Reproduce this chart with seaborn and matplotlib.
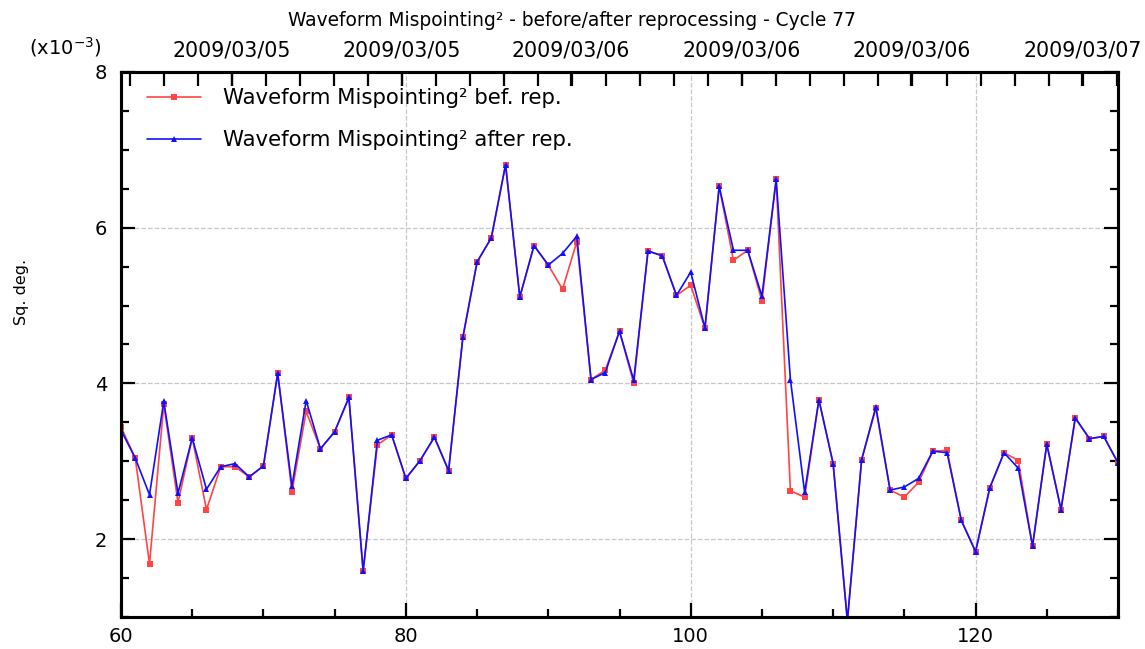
import numpy as np
import matplotlib
matplotlib.use("Agg")
import matplotlib.pyplot as plt
from matplotlib.ticker import MultipleLocator, FixedLocator
import pandas as pd
import seaborn as sns

# sample index along the pass
x = list(range(60, 131))

# mispointing^2 before reprocessing (x1e-3 sq. deg.)
before = [3.44, 3.04, 1.68, 3.73, 2.47, 3.30, 2.38, 2.93, 2.93, 2.80,
          2.94, 4.13, 2.61, 3.64, 3.16, 3.38, 3.82, 1.59, 3.21, 3.34,
          2.78, 3.01, 3.31, 2.88, 4.59, 5.56, 5.87, 6.81, 5.11, 5.77,
          5.52, 5.21, 5.82, 4.05, 4.17, 4.67, 4.00, 5.70, 5.64, 5.13,
          5.26, 4.71, 6.53, 5.58, 5.71, 5.06, 6.62, 2.62, 2.54, 3.79,
          2.97, 0.95, 3.02, 3.68, 2.63, 2.54, 2.73, 3.13, 3.14, 2.24,
          1.84, 2.66, 3.11, 3.01, 1.91, 3.22, 2.38, 3.55, 3.29, 3.32,
          2.98]

# mispointing^2 after reprocessing
after = [3.40, 3.04, 2.57, 3.77, 2.59, 3.30, 2.64, 2.93, 2.97, 2.80,
         2.94, 4.13, 2.68, 3.78, 3.16, 3.38, 3.82, 1.59, 3.27, 3.34,
         2.78, 3.01, 3.31, 2.88, 4.59, 5.56, 5.87, 6.81, 5.11, 5.77,
         5.52, 5.67, 5.89, 4.05, 4.14, 4.67, 4.04, 5.70, 5.64, 5.13,
         5.43, 4.71, 6.53, 5.71, 5.71, 5.12, 6.62, 4.05, 2.60, 3.79,
         2.97, 0.95, 3.02, 3.70, 2.63, 2.67, 2.78, 3.13, 3.11, 2.24,
         1.84, 2.66, 3.11, 2.91, 1.91, 3.22, 2.38, 3.56, 3.29, 3.32,
         2.98]

# top axis date labels
date_pos = [67.8, 79.7, 91.6, 103.6, 115.5, 127.5]
date_labels = ['2009/03/05', '2009/03/05', '2009/03/06',
               '2009/03/06', '2009/03/06', '2009/03/07']

df = pd.DataFrame({'x': x, 'before': before, 'after': after})

sns.set_style("white")
plt.rcParams['font.family'] = ['DejaVu Sans']
plt.rcParams['text.color'] = 'black'
plt.rcParams['axes.labelcolor'] = 'black'

fig = plt.figure(figsize=(11.45, 6.49), dpi=100)
ax = fig.add_axes([0.1057, 0.0493, 0.8707, 0.8398])

sns.lineplot(data=df, x='x', y='before', ax=ax, color='#ff4545', lw=1.2,
             marker='s', markersize=4, markeredgewidth=0,
             label='Waveform Mispointing² bef. rep.')
sns.lineplot(data=df, x='x', y='after', ax=ax, color='#1010ff', lw=1.2,
             marker='^', markersize=4.5, markeredgewidth=0,
             label='Waveform Mispointing² after rep.')

ax.set_xlim(60, 130)
ax.set_ylim(1, 8)
ax.xaxis.set_major_locator(MultipleLocator(20))
ax.xaxis.set_minor_locator(MultipleLocator(5))
ax.yaxis.set_major_locator(MultipleLocator(2))
ax.yaxis.set_minor_locator(MultipleLocator(0.5))
ax.tick_params(which='both', direction='in', bottom=True, left=True,
               top=False, right=True, width=1.6, labelsize=14, colors='black')
ax.tick_params(which='major', length=10)
ax.tick_params(axis='x', which='major', pad=7)
ax.tick_params(axis='y', which='major', pad=10)
ax.tick_params(which='minor', length=6)
ax.grid(True, which='major', ls='--', color='#c8c8c8', lw=0.9)
for s in ax.spines.values():
    s.set_linewidth(2.2)
    s.set_color('black')
ax.set_xlabel('')
ax.set_ylabel('Sq. deg.', fontsize=11.5)
ax.yaxis.set_label_coords(-0.092, 0.596)

top = ax.twiny()
top.set_xlim(ax.get_xlim())
top.xaxis.set_major_locator(FixedLocator(date_pos))
top.xaxis.set_minor_locator(FixedLocator(np.arange(60.6, 130, 2.39)))
top.set_xticklabels(date_labels)
top.tick_params(which='both', direction='in', top=True, width=1.6,
                labelsize=14.8, pad=8, colors='black')
top.tick_params(which='major', length=10)
top.tick_params(which='minor', length=10)
for s in top.spines.values():
    s.set_linewidth(2.2)
    s.set_color('black')

leg = ax.legend(loc='upper left', bbox_to_anchor=(0.018, 0.986),
                frameon=False, fontsize=15.3, borderaxespad=0,
                handlelength=2.5, handletextpad=1.05, labelspacing=1.05)

fig.text(0.5, 0.968, 'Waveform Mispointing² - before/after reprocessing - Cycle 77',
         ha='center', va='center', fontsize=13.4)
fig.text(0.025, 0.928, '(x10$^{-3}$)', ha='left', va='center', fontsize=14)

fig.savefig('out.png', dpi=100)
